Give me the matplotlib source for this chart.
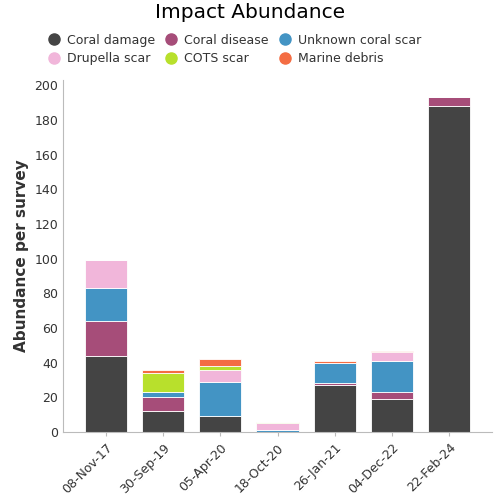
import numpy as np
from matplotlib import pyplot as plt
from matplotlib.lines import Line2D

dates = ["08-Nov-17", "30-Sep-19", "05-Apr-20", "18-Oct-20",
         "26-Jan-21", "04-Dec-22", "22-Feb-24"]
coral_damage = [44, 12, 9, 0, 27, 19, 188]
coral_disease = [20, 8, 0, 0, 1, 4, 5]
unknown_scar = [19, 3, 20, 1, 12, 18, 0]
drupella_scar = [16, 0, 7, 4, 0, 5, 0]
cots_scar = [0, 11, 2, 1, 0, 0, 0]
marine_debris = [0, 2, 4, 0, 1, 1, 0]

series = [
    ("Coral damage", coral_damage, "#444444"),
    ("Coral disease", coral_disease, "#a64d79"),
    ("Unknown coral scar", unknown_scar, "#4394c4"),
    ("Drupella scar", drupella_scar, "#f1b6da"),
    ("COTS scar", cots_scar, "#b8e02c"),
    ("Marine debris", marine_debris, "#f46d43"),
]

fig = plt.figure(figsize=(5, 5), dpi=100)
ax = fig.add_axes([0.126, 0.136, 0.858, 0.704])

x = np.arange(len(dates))
bottom = np.zeros(len(dates))
for name, vals, color in series:
    ax.bar(x, vals, bottom=bottom, width=0.74, color=color,
           edgecolor="white", linewidth=0.6, label=name)
    bottom += np.array(vals)

ax.set_xlim(-0.75, 6.75)
ax.set_ylim(0, 203)
ax.set_yticks(range(0, 201, 20))
ax.set_xticks(x)
ax.set_xticklabels(dates, rotation=45, ha="right", rotation_mode="anchor",
                   fontsize=9, color="#333333")
ax.tick_params(axis="y", labelsize=9, labelcolor="#333333", length=0)
ax.tick_params(axis="x", length=3, color="#bbbbbb")
for s in ["top", "right"]:
    ax.spines[s].set_visible(False)
for s in ["left", "bottom"]:
    ax.spines[s].set_color("#bbbbbb")
ax.set_ylabel("Abundance per survey", fontsize=11, color="#333333",
              fontweight="semibold")

fig.suptitle("Impact Abundance", fontsize=14.5, y=0.995)

handles = [Line2D([], [], marker="o", linestyle="", markersize=8, color=c)
           for _, _, c in series]
labels = [n for n, _, _ in series]
order = [0, 3, 1, 4, 2, 5]
fig.legend([handles[i] for i in order], [labels[i] for i in order],
           ncol=3, loc="upper left", bbox_to_anchor=(0.06, 0.955),
           frameon=False, fontsize=9, handletextpad=0.05,
           columnspacing=0.3, labelspacing=0.45, labelcolor="#333333")

fig.savefig("out.png", dpi=100)
